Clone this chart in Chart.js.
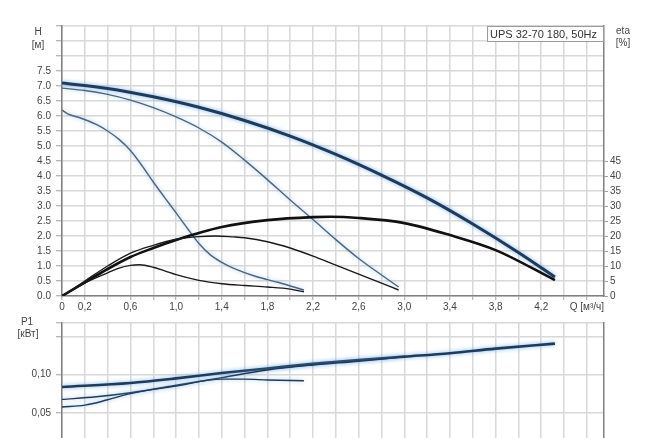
<!DOCTYPE html>
<html><head><meta charset="utf-8">
<script src="https://cdn.jsdelivr.net/npm/chart.js@4.4.0/dist/chart.umd.min.js"></script>
<style>
html,body{margin:0;padding:0;background:#fff;overflow:hidden;width:650px;height:438px;}
#top{position:absolute;left:0;top:0;}
#bot{position:absolute;left:0;top:312px;}
</style></head><body>
<canvas id="top" width="650" height="318"></canvas>
<canvas id="bot" width="650" height="170"></canvas>
<script>
// ---- axis ticks ----
const qTicks = [0,0.2,0.4,0.6,0.8,1.0,1.2,1.4,1.6,1.8,2.0,2.2,2.4,2.6,2.8,3.0,3.2,3.4,3.6,3.8,4.0,4.2,4.4,4.6];
const qTickLabels = ['0','0,2','','0,6','','1,0','','1,4','','1,8','','2,2','','2,6','','3,0','','3,4','','3,8','','4,2','','Q [м³/ч]'];
const hTicks = [0,0.5,1,1.5,2,2.5,3,3.5,4,4.5,5,5.5,6,6.5,7,7.5,8,8.5,9];
const hTickLabels = ['0.0','0.5','1.0','1.5','2.0','2.5','3.0','3.5','4.0','4.5','5.0','5.5','6.0','6.5','7.0','7.5','','',''];
const etaTicks = [0,5,10,15,20,25,30,35,40,45];
const etaTickLabels = ['0','5','10','15','20','25','30','35','40','45'];
const pTicks = [0,0.05,0.10,0.15,0.1675];
const pTickLabels = ['','0,05','0,10','',''];

// ---- H curves [м] ----
const hMaxQ = [0,0.4,0.8,1.2,1.6,2.0,2.4,2.8,3.2,3.6,4.0,4.32];
const hMax  = [7.1,6.92,6.64,6.29,5.85,5.33,4.72,4.03,3.27,2.4,1.45,0.63];
const hMidQ = [0,0.2,0.4,0.6,0.8,1.0,1.2,1.4,1.6,1.8,2.0,2.2,2.4,2.6,2.8,2.95];
const hMid  = [6.93,6.85,6.72,6.53,6.28,5.97,5.6,5.13,4.53,3.88,3.2,2.55,1.88,1.25,0.7,0.3];
const hLowQ = [0,0.05,0.15,0.3,0.4,0.5,0.6,0.7,0.8,0.9,1.0,1.1,1.2,1.3,1.4,1.5,1.7,1.9,2.12];
const hLow  = [6.2,6.07,5.95,5.72,5.5,5.22,4.85,4.35,3.8,3.28,2.77,2.25,1.75,1.37,1.12,0.93,0.65,0.45,0.2];

// ---- eta curves [%] ----
const etaMaxQ = [0,0.2,0.4,0.6,0.8,1.0,1.4,1.8,2.2,2.35,2.6,3.0,3.4,3.8,4.32];
const etaMax  = [0,4.5,9,13,16,18.7,23,25.3,26.3,26.4,26,24.3,20.3,15.3,5.3];
const etaMidQ = [0,0.2,0.4,0.6,0.8,1.0,1.2,1.35,1.5,1.6,1.8,2.0,2.2,2.4,2.6,2.8,2.95];
const etaMid  = [0,5,10,14.3,16.9,18.9,19.8,20,19.7,19.4,18.1,16,13.3,10.3,7.3,4.3,2];
const etaLowQ = [0,0.2,0.4,0.5,0.6,0.68,0.8,0.9,1.0,1.2,1.4,1.6,1.8,2.0,2.12];
const etaLow  = [0,4.3,7.7,9.3,10.2,10.4,9.6,8.4,7.1,5.2,4.1,3.5,3.0,2.3,1.4];

// ---- P1 curves [кВт] ----
const pMaxQ = [0,0.6,1.0,1.4,1.8,2.2,2.6,3.0,3.4,3.8,4.32];
const pMax  = [0.0838,0.089,0.095,0.102,0.108,0.114,0.119,0.1235,0.128,0.134,0.1405];
const pMidQ = [0,0.3,0.6,1.0,1.4,1.8,2.2,2.6,2.95];
const pMid  = [0.0675,0.071,0.0763,0.086,0.096,0.106,0.1125,0.1175,0.1225];
const pLowQ = [0,0.2,0.4,0.6,1.0,1.4,1.6,1.8,2.12];
const pLow  = [0.0575,0.06,0.067,0.075,0.085,0.094,0.094,0.093,0.092];

const pts = (xs, ys) => xs.map((x,i)=>({x:x, y:ys[i]}));

const FONT = {family:"'Liberation Sans', Arial, sans-serif", size:10};
const TXT = '#444';
const GRID = '#d8d8d8';
const AXIS = '#808080';
const NAVY = '#1f3b5c';
const THIN = '#4b6682';

const glow = {
  id:'glow',
  beforeDatasetDraw(chart, args){
    const ds = chart.data.datasets[args.index];
    if (ds.glow){ const c = chart.ctx; c.save(); c.shadowColor = ds.glow; c.shadowBlur = 4; }
  },
  afterDatasetDraw(chart, args){
    if (chart.data.datasets[args.index].glow) chart.ctx.restore();
  }
};

function textPlugin(items, box){
  return {
    id:'texts',
    afterDraw(chart){
      const c = chart.ctx;
      c.save();
      c.font = "10px 'Liberation Sans', Arial, sans-serif";
      c.fillStyle = TXT;
      c.textAlign = 'center';
      c.textBaseline = 'middle';
      items.forEach(t => c.fillText(t[0], t[1], t[2]));
      if (box){
        c.fillStyle = '#fff';
        c.fillRect(box.x, box.y, box.w, box.h);
        c.strokeStyle = '#9a9a9a';
        c.lineWidth = 1;
        c.strokeRect(box.x+0.5, box.y+0.5, box.w, box.h);
        c.font = "11px 'Liberation Sans', Arial, sans-serif";
        c.fillStyle = '#333';
        c.textAlign = 'left';
        c.fillText(box.text, box.x+3, box.y+box.h/2+1);
      }
      c.restore();
    }
  };
}

function line(data, color, width, axis, glowColor){
  return {data:data, borderColor:color, borderWidth:width, showLine:true, pointRadius:0,
    pointHoverRadius:0, cubicInterpolationMode:'monotone', yAxisID:axis, glow:glowColor, fill:false};
}

const xScale = (showLabels, h) => ({
  type:'linear', min:0, max:4.75,
  afterBuildTicks: s => { s.ticks = qTicks.map(v=>({value:v})); },
  afterFit: s => { s.height = h; },
  ticks:{display:showLabels, autoSkip:false, maxRotation:0, minRotation:0, padding:1, color:TXT, font:FONT,
    callback:(v,i)=>qTickLabels[i]},
  grid:{color:GRID, lineWidth:1.5, tickLength:4, tickColor:'#a0a0a0', tickWidth:1},
  border:{color:AXIS, width:1.5}
});

new Chart(document.getElementById('top'), {
  type:'scatter',
  data:{datasets:[
    line(pts(etaLowQ, etaLow), '#1a1a1a', 1.4, 'y1'),
    line(pts(etaMidQ, etaMid), '#1a1a1a', 1.4, 'y1'),
    line(pts(etaMaxQ, etaMax), '#111', 2.6, 'y1'),
    line(pts(hLowQ, hLow), THIN, 1.4, 'y', 'rgba(120,175,230,0.7)'),
    line(pts(hMidQ, hMid), THIN, 1.4, 'y', 'rgba(120,175,230,0.7)'),
    line(pts(hMaxQ, hMax), NAVY, 3, 'y', 'rgba(110,170,230,0.9)')
  ]},
  options:{
    responsive:false, animation:false,
    layout:{padding:{top:26, left:0, right:0, bottom:0}},
    plugins:{legend:{display:false}, tooltip:{enabled:false}},
    scales:{
      x: xScale(true, 22),
      y:{type:'linear', position:'left', min:0, max:9,
        afterBuildTicks: s => { s.ticks = hTicks.map(v=>({value:v})); },
        afterFit: s => { s.width = 62; },
        ticks:{autoSkip:false, padding:5, color:TXT, font:FONT, callback:(v,i)=>hTickLabels[i]},
        grid:{color:GRID, lineWidth:1.5, tickLength:6, tickColor:'#a0a0a0', tickWidth:1},
        border:{color:AXIS, width:1.5}},
      y1:{type:'linear', position:'right', min:0, max:90,
        afterBuildTicks: s => { s.ticks = etaTicks.map(v=>({value:v})); },
        afterFit: s => { s.width = 46; },
        ticks:{autoSkip:false, padding:2, color:TXT, font:FONT, callback:(v,i)=>etaTickLabels[i]},
        grid:{drawOnChartArea:false, tickLength:4, tickColor:'#a0a0a0', tickWidth:1},
        border:{color:AXIS, width:1.5}}
    }
  },
  plugins:[glow, textPlugin([['H',38,32],['[м]',38,45],['eta',623,31],['[%]',623,43]],
    {x:487, y:26, w:116, h:15, text:'UPS 32-70 180, 50Hz'})]
});

new Chart(document.getElementById('bot'), {
  type:'scatter',
  data:{datasets:[
    line(pts(pLowQ, pLow), NAVY, 1.4, 'y', 'rgba(120,175,230,0.7)'),
    line(pts(pMidQ, pMid), NAVY, 1.4, 'y', 'rgba(120,175,230,0.7)'),
    line(pts(pMaxQ, pMax), NAVY, 2.6, 'y', 'rgba(110,170,230,0.9)')
  ]},
  options:{
    responsive:false, animation:false,
    layout:{padding:{top:5, left:0, right:0, bottom:0}},
    plugins:{legend:{display:false}, tooltip:{enabled:false}},
    scales:{
      x: xScale(false, 31),
      y:{type:'linear', position:'left', min:0, max:0.1675,
        afterBuildTicks: s => { s.ticks = pTicks.map(v=>({value:v})); },
        afterFit: s => { s.width = 62; },
        ticks:{autoSkip:false, padding:5, color:TXT, font:FONT, callback:(v,i)=>pTickLabels[i]},
        grid:{color:GRID, lineWidth:1.5, tickLength:6, tickColor:'#a0a0a0', tickWidth:1},
        border:{color:AXIS, width:1.5}},
      yr:{type:'linear', position:'right', min:0, max:0.1675,
        afterFit: s => { s.width = 46; },
        ticks:{display:false},
        grid:{drawOnChartArea:false, drawTicks:false},
        border:{color:AXIS, width:1.5}}
    }
  },
  plugins:[glow, textPlugin([['P1',27,10],['[кВт]',28,22]])]
});
</script>
</body></html>
